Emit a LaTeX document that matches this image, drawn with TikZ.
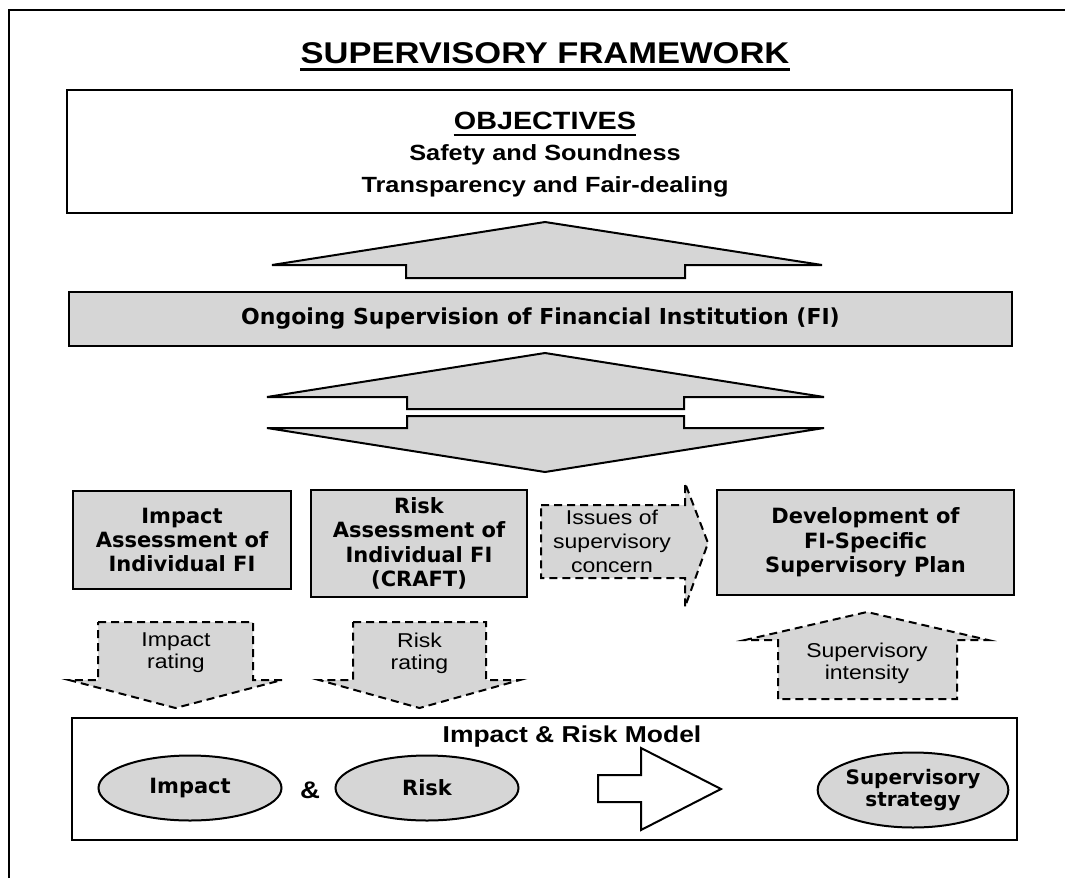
\documentclass[tikz,border=0pt]{standalone}
\usepackage{fontspec}
\setmainfont{Liberation Sans}
\newfontfamily\arialf[FakeStretch=1.15]{Liberation Sans}
\newfontfamily\verdf{DejaVu Sans}
\usetikzlibrary{shapes.geometric}

\definecolor{stipple}{gray}{0.84}

\tikzset{
  box/.style={draw=black, line width=1pt, fill=stipple, align=center, inner sep=0pt,
    font=\verdf\bfseries\fontsize{10.5}{12.2}\selectfont},
  oval/.style={ellipse, draw=black, line width=1pt, fill=stipple, align=center, inner sep=0pt,
    font=\verdf\bfseries\fontsize{10.5}{11.5}\selectfont},
  dasharrow/.style={draw=black, line width=1pt, dash pattern=on 4pt off 2.5pt, fill=stipple},
  bigarrow/.style={draw=black, line width=1pt, fill=stipple, line join=miter},
  lbl/.style={align=center, inner sep=0pt, font=\arialf\fontsize{10}{11}\selectfont},
}

\begin{document}
\begin{tikzpicture}[x=0.5pt, y=-0.5pt]
	\useasboundingbox (0,0) rectangle (1065,878);
	% page frame (top and left only)
	\draw [line width=1pt] (9,878) -- (9,10) -- (1065,10);

	\node[inner sep=0pt, font=\arialf\bfseries\fontsize{15}{18}\selectfont] (title) at (545,53) {SUPERVISORY FRAMEWORK};
	\draw [line width=1.5pt] ([yshift=-3pt]title.base west) -- ([yshift=-3pt]title.base east);

	% objectives
	\node[draw, line width=1pt, minimum width=472.5pt, minimum height=61.5pt] (objectives) at (539.5,151.5) {};
	\node[inner sep=0pt, font=\arialf\bfseries\fontsize{12.5}{14}\selectfont] (objhead) at (545,121) {OBJECTIVES};
	\draw [line width=1pt] ([yshift=-2.5pt]objhead.base west) -- ([yshift=-2.5pt]objhead.base east);
	\node[inner sep=0pt, align=center, font=\arialf\bfseries\fontsize{11}{16.25}\selectfont] (objtext) at (545,171) {Safety and Soundness\\Transparency and Fair-dealing};

	\draw [bigarrow] (272,265) -- (545,222) -- (822,265) -- (685,265) -- (685,278) -- (406,278) -- (406,265) -- cycle;

	\node[box, minimum width=471.5pt, minimum height=27pt, font=\verdf\bfseries\fontsize{11}{13}\selectfont] (ongoing) at (540.5,319) {Ongoing Supervision of Financial Institution (FI)};

	% two-way arrow
	\draw [bigarrow] (267,397) -- (545,353) -- (824,397) -- (684,397) -- (684,409) -- (407,409) -- (407,397) -- cycle;
	\draw [bigarrow] (407,416) -- (684,416) -- (684,428) -- (824,428) -- (545,472) -- (267,428) -- (407,428) -- cycle;

	% assessment row
	\node[box, minimum width=109pt, minimum height=49pt] (impact) at (182,540) {Impact\\Assessment of\\Individual FI};
	\node[box, minimum width=108pt, minimum height=53.5pt] (risk) at (419,543.5) {Risk\\Assessment of\\Individual FI\\(CRAFT)};
	\draw [dasharrow] (541,505) -- (685,505) -- (685,483) -- (708,543) -- (685,607) -- (685,578) -- (541,578) -- cycle;
	\node[lbl, font=\arialf\fontsize{10}{12}\selectfont] (issues) at (612,541) {Issues of\\supervisory\\concern};
	\node[box, minimum width=148.5pt, minimum height=52.5pt] (plan) at (865.5,542.5) {Development of\\FI-Specific\\Supervisory Plan};

	% ratings and intensity
	\draw [dasharrow] (98,622) -- (253,622) -- (253,680) -- (282,680) -- (175.5,708) -- (69,680) -- (98,680) -- cycle;
	\node[lbl] (irating) at (176,653) {Impact\\rating};
	\draw [dasharrow] (353,622) -- (486,622) -- (486,680) -- (520,680) -- (419.5,708) -- (319,680) -- (353,680) -- cycle;
	\node[lbl] (rrating) at (419.5,653) {Risk\\rating};
	\draw [dasharrow] (778,699) -- (778,640) -- (745,640) -- (867,612) -- (988,640) -- (957,640) -- (957,699) -- cycle;
	\node[lbl] (intensity) at (867,663) {Supervisory\\intensity};

	% model
	\node[draw, line width=1pt, minimum width=472.5pt, minimum height=61pt] (model) at (544.5,779) {};
	\node[inner sep=0pt, font=\arialf\bfseries\fontsize{11.5}{13}\selectfont] (modelhead) at (572,737) {Impact \& Risk Model};
	\node[oval, minimum width=91.5pt, minimum height=32.5pt] (eimpact) at (190,788) {Impact};
	\node[oval, minimum width=91.5pt, minimum height=32.5pt] (erisk) at (427,788) {Risk};
	\node[inner sep=0pt, font=\arialf\bfseries\fontsize{12}{15}\selectfont] (amp) at (310,790) {\&};
	\draw [line width=1pt, fill=white] (598,775) -- (641,775) -- (641,748) -- (721,789) -- (641,830) -- (641,802) -- (598,802) -- cycle;
	\node[oval, minimum width=86.5pt, minimum height=37.5pt, font=\verdf\bfseries\fontsize{10}{11}\selectfont] (strategy) at (913,790) {Supervisory\\strategy};
\end{tikzpicture}
\end{document}
